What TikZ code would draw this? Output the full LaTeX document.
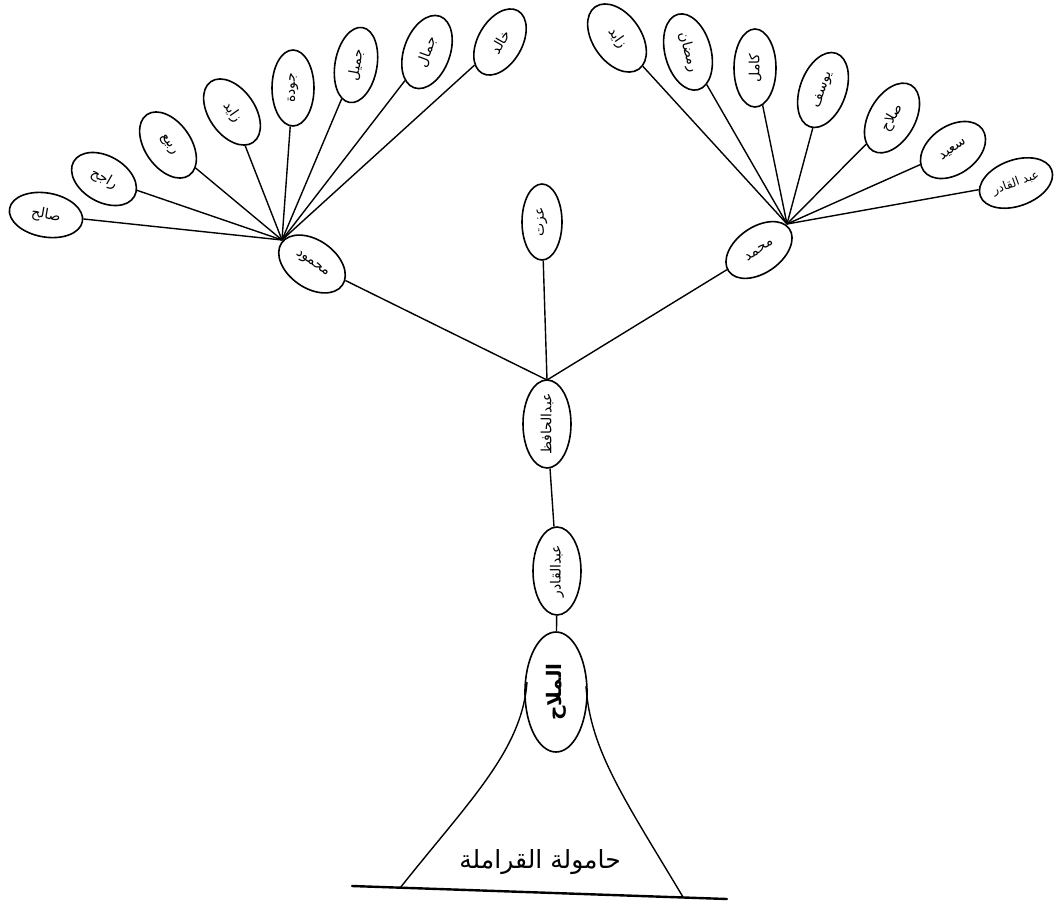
\documentclass[tikz,border=0pt]{standalone}
\usepackage{fontspec}
\newfontfamily\arabicfont[Script=Arabic]{DejaVu Sans}
\TeXXeTstate=1
\usetikzlibrary{shapes.geometric}
\newcommand\artxt[1]{\beginR #1\endR}
\begin{document}
\begin{tikzpicture}[x=1pt,y=-1pt,
  leaf/.style={draw, ellipse, line width=1.6pt, inner sep=0pt,
    font=\arabicfont\fontsize{14}{16}\selectfont},
  conn/.style={line width=1.4pt},
  base/.style={line width=2.4pt, line cap=round}]
\useasboundingbox[fill=white] (0,0) rectangle (1063,903);

% left cluster
\node[leaf, rotate=-10, minimum width=74pt, minimum height=44pt] (saleh)  at (46,215)  {\artxt{صالح}};
\node[leaf, rotate=-30, minimum width=70pt, minimum height=46pt] (rajeh)  at (104,179) {\artxt{راجح}};
\node[leaf, rotate=-55, minimum width=74pt, minimum height=46pt] (rabie)  at (168,145) {\artxt{ربيع}};
\node[leaf, rotate=-55, minimum width=74pt, minimum height=46pt] (zayedA) at (232,112) {\artxt{زايد}};
\node[leaf, rotate=90,  minimum width=76pt, minimum height=42pt] (gouda)  at (293,88)  {\artxt{جودة}};
\node[leaf, rotate=80,  minimum width=76pt, minimum height=42pt] (gamil)  at (356,65)  {\artxt{جميل}};
\node[leaf, rotate=70,  minimum width=76pt, minimum height=46pt] (gamal)  at (427,52)  {\artxt{جمال}};
\node[leaf, rotate=60,  minimum width=72pt, minimum height=44pt] (khaled) at (500,42)  {\artxt{خالد}};
\node[leaf, rotate=-35, minimum width=74pt, minimum height=48pt] (mahmoud) at (312,264) {\artxt{محمود}};
\coordinate (hubL) at (282,240);

% centre
\node[leaf, rotate=90, minimum width=76pt, minimum height=40pt] (izzat) at (542,222) {\artxt{عزت}};
\node[leaf, rotate=90, minimum width=88pt, minimum height=48pt] (hafiz) at (547,424) {\artxt{عبدالحافظ}};
\node[leaf, rotate=90, minimum width=88pt, minimum height=48pt] (qadirA) at (557,571) {\artxt{عبدالقادر}};
\node[leaf, rotate=90, minimum width=120pt, minimum height=62pt,
      font=\arabicfont\bfseries\fontsize{20}{22}\selectfont] (mallah) at (556,692) {\artxt{الملاح}};
\coordinate (junc) at (547,380);

% right cluster
\node[leaf, rotate=35,  minimum width=74pt, minimum height=46pt] (mohamed) at (759,250) {\artxt{محمد}};
\coordinate (hubR) at (787,224);
\node[leaf, rotate=-55, minimum width=76pt, minimum height=48pt] (zayedB)  at (617,38)  {\artxt{زايد}};
\node[leaf, rotate=-75, minimum width=78pt, minimum height=46pt] (ramadan) at (688,52)  {\artxt{رمضان}};
\node[leaf, rotate=90,  minimum width=78pt, minimum height=42pt] (kamel)   at (755,68)  {\artxt{كامل}};
\node[leaf, rotate=70,  minimum width=78pt, minimum height=46pt] (yousef)  at (823,90)  {\artxt{يوسف}};
\node[leaf, rotate=60,  minimum width=76pt, minimum height=46pt] (salah)   at (892,118) {\artxt{صلاح}};
\node[leaf, rotate=35,  minimum width=72pt, minimum height=48pt] (saeed)   at (953,150) {\artxt{سعيد}};
\node[leaf, rotate=20,  minimum width=76pt, minimum height=46pt,
      font=\arabicfont\fontsize{12}{14}\selectfont] (abdelqader) at (1016,183) {\artxt{عبد القادر}};

% connectors
\foreach \n in {saleh,rajeh,rabie,zayedA,gouda,gamil,gamal,khaled}
  \draw[conn] (\n) -- (hubL);
\foreach \n in {zayedB,ramadan,kamel,yousef,salah,saeed,abdelqader}
  \draw[conn] (\n) -- (hubR);
\draw[conn] (mahmoud) -- (junc);
\draw[conn] (mohamed) -- (junc);
\draw[conn] (izzat) -- (junc);
\draw[conn] (hafiz) -- (qadirA);
\draw[conn] (qadirA) -- (mallah);

% base (tent)
\coordinate (baseL) at (352,886);
\coordinate (baseR) at (727,899);
\coordinate (footL) at (400,888);
\coordinate (footR) at (683,897);
\coordinate (topL) at (527,682);
\coordinate (topR) at (586,686);
\draw[conn] (footL) .. controls (470,800) and (522,750) .. (topL);
\draw[conn] (footR) .. controls (625,800) and (590,750) .. (topR);
\draw[base] (baseL) -- (baseR);
\node[font=\arabicfont\fontsize{25}{28}\selectfont] (tribe) at (540,862) {\artxt{حامولة القراملة}};
\end{tikzpicture}
\end{document}
